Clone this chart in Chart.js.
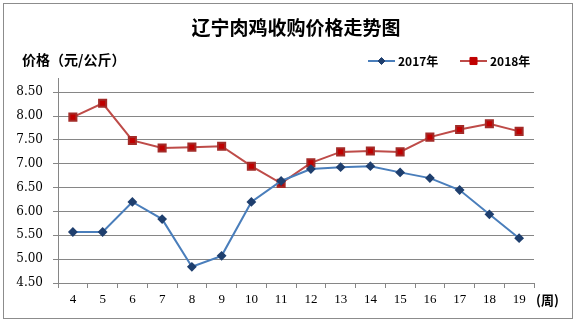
<!DOCTYPE html>
<html>
<head>
<meta charset="utf-8">
<script src="https://cdn.jsdelivr.net/npm/chart.js@4/dist/chart.umd.min.js"></script>
<style>
    html, body { margin: 0; padding: 0; background: #fff; }
    #wrap { width: 578px; height: 324px; }
</style>
</head>
<body>
<div id="wrap"><canvas id="chart" width="578" height="324"></canvas></div>
<script>
// weeks (x axis)
const weeks = ['4', '5', '6', '7', '8', '9', '10', '11', '12', '13', '14', '15', '16', '17', '18', '19'];
// price, yuan / kg
const price2017 = [5.57, 5.57, 6.20, 5.84, 4.84, 5.07, 6.20, 6.64, 6.89, 6.93, 6.95, 6.82, 6.70, 6.45, 5.94, 5.44];
const price2018 = [7.98, 8.27, 7.49, 7.33, 7.35, 7.37, 6.95, 6.59, 7.02, 7.25, 7.27, 7.25, 7.56, 7.72, 7.84, 7.68];
const yTicks = [4.5, 5.0, 5.5, 6.0, 6.5, 7.0, 7.5, 8.0, 8.5];

const seriesNames = ['2017年', '2018年'];
const CJK = '"Noto Sans CJK SC", "Noto Sans", sans-serif';
const GRID = '#868686';

// frame, titles, legend, unit label
const decorations = {
    id: 'decorations',
    afterDraw(chart) {
        const ctx = chart.ctx;
        ctx.save();

        ctx.strokeStyle = '#8c8c8c';
        ctx.lineWidth = 1;
        ctx.strokeRect(3.5, 3.5, 569, 315);

        ctx.fillStyle = '#000';
        ctx.textBaseline = 'middle';
        ctx.textAlign = 'center';
        ctx.font = 'bold 19px ' + CJK;
        ctx.fillText('辽宁肉鸡收购价格走势图', 296, 28);

        ctx.textAlign = 'left';
        ctx.font = 'bold 14px ' + CJK;
        ctx.fillText('价格（元/公斤）', 22, 60);

        ctx.font = 'bold 13px ' + CJK;
        ctx.fillText('(周)', 536, 300);

        // legend
        const items = [
            { x: 368, line: '#4a7ebb', mark: '#1f3f6e', style: 'rectRot', r: 3.5 },
            { x: 460, line: '#be4b48', mark: '#c00000', style: 'rect', r: 5 },
        ];
        ctx.font = 'bold 12px ' + CJK;
        items.forEach((it, i) => {
            ctx.strokeStyle = it.line;
            ctx.lineWidth = 2;
            ctx.beginPath();
            ctx.moveTo(it.x, 61);
            ctx.lineTo(it.x + 27, 61);
            ctx.stroke();
            ctx.fillStyle = it.mark;
            ctx.strokeStyle = it.mark;
            ctx.lineWidth = 1;
            Chart.helpers.drawPoint(ctx, { pointStyle: it.style, radius: it.r, rotation: 0, borderWidth: 1 }, it.x + 13.5, 61);
            ctx.fillStyle = '#000';
            ctx.fillText(seriesNames[i], it.x + 30, 61);
        });

        ctx.restore();
    },
};

new Chart(document.getElementById('chart'), {
    type: 'line',
    data: {
        labels: weeks,
        datasets: [
            {
                label: seriesNames[0],
                data: price2017,
                borderColor: '#4a7ebb',
                borderWidth: 2,
                pointStyle: 'rectRot',
                pointRadius: 3.5,
                pointBackgroundColor: '#1f3f6e',
                pointBorderColor: '#1f3f6e',
                tension: 0,
            },
            {
                label: seriesNames[1],
                data: price2018,
                borderColor: '#be4b48',
                borderWidth: 2,
                pointStyle: 'rect',
                pointRadius: 5,
                pointBackgroundColor: '#c00000',
                pointBorderColor: '#a32b28',
                tension: 0,
            },
        ],
    },
    options: {
        responsive: false,
        animation: false,
        layout: { padding: { left: 0, top: 78, right: 44, bottom: 0 } },
        plugins: {
            legend: { display: false },
            title: { display: false },
            tooltip: { enabled: false },
        },
        scales: {
            x: {
                offset: true,
                grid: { drawOnChartArea: false, drawTicks: true, tickLength: 5, color: GRID, offset: true },
                border: { color: GRID },
                ticks: {
                    color: '#000',
                    font: { family: '"Liberation Serif", serif', size: 13 },
                    padding: 4,
                    maxRotation: 0,
                    autoSkip: false,
                },
                afterFit(scale) { scale.height = 41; },
            },
            y: {
                min: 4.5,
                max: 8.8,
                afterBuildTicks(scale) { scale.ticks = yTicks.map((v) => ({ value: v })); },
                grid: { color: GRID, tickLength: 5 },
                border: { color: GRID },
                ticks: {
                    color: '#000',
                    font: { family: '"DejaVu Serif", serif', size: 12 },
                    padding: 10,
                    callback: (v) => Number(v).toFixed(2),
                },
                afterFit(scale) { scale.width = 58; },
            },
        },
    },
    plugins: [decorations],
});
</script>
</body>
</html>
